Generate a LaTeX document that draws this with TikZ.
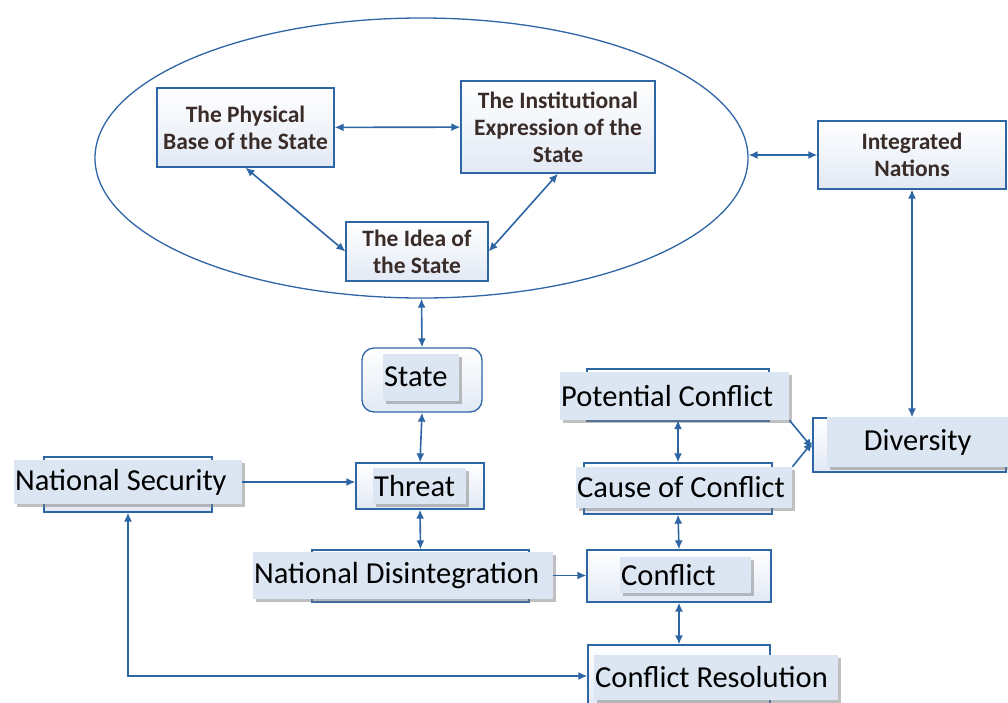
\documentclass[tikz,border=0pt]{standalone}
\usepackage{fontspec}
\setmainfont{Carlito}
\usetikzlibrary{shapes.geometric,arrows.meta,shadows}
\definecolor{lineblue}{RGB}{46,101,164}
\definecolor{lblfill}{RGB}{220,230,242}
\definecolor{boxbot}{RGB}{226,233,245}
\definecolor{toptext}{RGB}{58,44,40}
\tikzset{
  box/.style={draw=lineblue, line width=1.3pt, top color=white, bottom color=boxbot,
    inner sep=0pt, align=center},
  topbox/.style={box, font=\fontsize{23.5}{27}\selectfont\bfseries, text=toptext},
  lbl/.style={fill=lblfill, inner xsep=1pt, inner ysep=0pt, anchor=west, align=flush left,
    font=\fontsize{30.5}{34}\selectfont,
    drop shadow={shadow xshift=2.5pt, shadow yshift=-3pt, opacity=0.5}},
  link/.style={draw=lineblue, line width=1.6pt, arrows={-Latex[length=9pt,width=8pt]}},
  both/.style={link, arrows={Latex[length=9pt,width=8pt]-Latex[length=9pt,width=8pt]}}
}
\begin{document}
\begin{tikzpicture}[x=1pt,y=-1pt]
  \useasboundingbox (0,0) rectangle (1008,702);
  % the state and its three parts
  \node[ellipse, draw=lineblue, line width=1.3pt, minimum width=653, minimum height=280,
    inner sep=0pt] (ell) at (421.5,158) {};
  \node[topbox, minimum width=177, minimum height=79] (phys) at (245.5,127.5)
    {The Physical\\Base of the State};
  \node[topbox, minimum width=194, minimum height=92] (inst) at (558,127)
    {The Institutional\\Expression of the\\State};
  \node[topbox, minimum width=142, minimum height=59] (idea) at (417,251.5)
    {The Idea of\\the State};
  \node[topbox, minimum width=188, minimum height=68] (integ) at (912,155)
    {Integrated\\Nations};
  % outer boxes
  \node[box, rounded corners=12pt, minimum width=120, minimum height=64] (state) at (422,380) {};
  \node[box, minimum width=128, minimum height=46] (threat) at (420,486) {};
  \node[box, minimum width=168, minimum height=55] (natsec) at (128,484.5) {};
  \node[box, minimum width=217, minimum height=52] (natdis) at (420.5,576) {};
  \node[box, minimum width=184, minimum height=52] (conf) at (679,576) {};
  \node[box, minimum width=182, minimum height=52] (potent) at (678,395) {};
  \node[box, minimum width=188, minimum height=51] (cause) at (678,488.5) {};
  \node[box, minimum width=193, minimum height=54] (divers) at (909.5,445) {};
  \node[box, minimum width=182, minimum height=62] (confres) at (679,676) {};
  % labels over the boxes
  \node[lbl, text width=74, minimum height=47] (statelbl) at (383,377) {State};
  \node[lbl, text width=91, minimum height=36] (threatlbl) at (373,486) {Threat};
  \node[lbl, text width=226, minimum height=44] (natseclbl) at (14,482) {National Security};
  \node[lbl, text width=298, minimum height=47] (natdislbl) at (253,575.5) {National Disintegration};
  \node[lbl, text width=129, minimum height=36] (conflbl) at (620,575) {Conflict};
  \node[lbl, text width=227, minimum height=48] (potentlbl) at (560,396) {Potential Conflict};
  \node[lbl, text width=214, minimum height=41] (causelbl) at (576,487.5) {Cause of Conflict};
  \node[lbl, align=center, text width=179, minimum height=50] (diverslbl) at (827,442) {Diversity};
  \node[lbl, text width=242, minimum height=45] (confreslbl) at (594,677.5) {Conflict Resolution};
  % connectors
  \begin{scope}[both]
    \draw (phys) to (inst);
    \draw (phys.south) to (idea.west);
    \draw (inst.south) to (idea.east);
    \draw (ell.east |- integ.west) to (integ.west);
    \draw (integ.south) to (integ.south |- divers.north);
    \draw (ell.south) to (state.north);
    \draw (state.south) to (threat.north);
    \draw (threat.south) to (natdis.north);
    \draw (potentlbl.south -| potent.south) to (cause.north);
    \draw (cause.south) to (conf.north);
    \draw (conf.south) to (confres.north);
    \draw (natsec.south) |- (confres.west);
  \end{scope}
  \begin{scope}[link]
    \draw (natseclbl.east) to (natseclbl.east -| threat.west);
    \draw (natdislbl.east) to (natdislbl.east -| conf.west);
    \draw (potentlbl.south east) to ([yshift=-3pt]divers.west);
    \draw (causelbl.north east) to ([yshift=3pt]divers.west);
  \end{scope}
\end{tikzpicture}
\end{document}
